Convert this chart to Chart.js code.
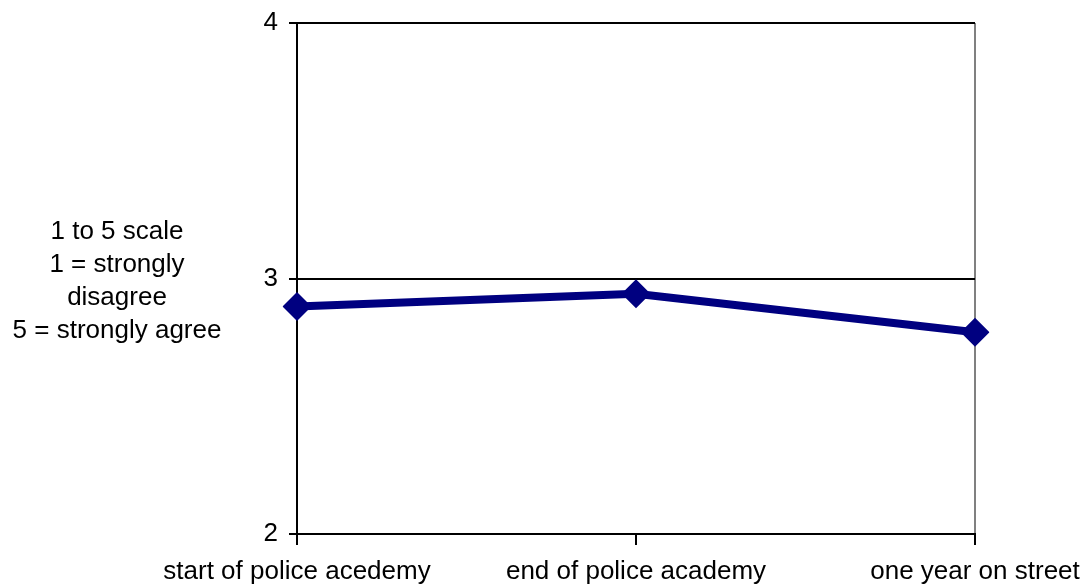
<!DOCTYPE html>
<html>
<head>
<meta charset="utf-8">
<script src="https://cdn.jsdelivr.net/npm/chart.js@4/dist/chart.umd.min.js"></script>
<style>
  html, body { margin: 0; padding: 0; background: #ffffff; }
  #wrap { width: 1086px; height: 588px; position: relative; }
</style>
</head>
<body>
<div id="wrap"><canvas id="chart" width="1086" height="588"></canvas></div>
<script>
// Survey waves and mean agreement scores
const categories = ['start of police acedemy', 'end of police academy', 'one year on street'];
const meanScores = [2.89, 2.94, 2.79];
const yTicks = [2, 3, 4];
const axisNote = ['1 to 5 scale', '1 = strongly', 'disagree', '5 = strongly agree'];

const FONT = '"Liberation Sans", Arial, sans-serif';
const FONT_SIZE = 26;

// Draws the multi-line scale description to the left of the value axis
const sideNote = {
  id: 'sideNote',
  afterDraw(chart) {
    const ctx = chart.ctx;
    ctx.save();
    ctx.fillStyle = '#000';
    ctx.font = FONT_SIZE + 'px ' + FONT;
    ctx.textAlign = 'center';
    ctx.textBaseline = 'middle';
    const cx = 117, startY = 232, step = 33;
    axisNote.forEach((line, i) => ctx.fillText(line, cx, startY + i * step));
    ctx.restore();
  }
};

new Chart(document.getElementById('chart'), {
  type: 'line',
  data: {
    labels: categories,
    datasets: [{
      data: meanScores,
      borderColor: '#000080',
      backgroundColor: '#000080',
      borderWidth: 8,
      pointStyle: 'rectRot',
      pointRadius: 14.5,
      pointHoverRadius: 14.5,
      pointBorderWidth: 0,
      tension: 0,
      fill: false
    }]
  },
  options: {
    responsive: false,
    animation: false,
    events: [],
    layout: { padding: { top: 23, right: 111, bottom: 0, left: 0 } },
    plugins: { legend: { display: false }, tooltip: { enabled: false } },
    scales: {
      x: {
        offset: false,
        border: { display: true, color: '#000', width: 2 },
        grid: {
          drawOnChartArea: true,
          color: c => c.index === categories.length - 1 ? '#808080' : 'rgba(0,0,0,0)',
          lineWidth: 2,
          tickColor: '#000',
          tickLength: 11,
          tickWidth: 2
        },
        ticks: { color: '#000', font: { family: FONT, size: FONT_SIZE }, padding: 11, maxRotation: 0, autoSkip: false },
        afterFit(scale) { scale.paddingLeft = 0; scale.paddingRight = 0; scale.height = 54; }
      },
      y: {
        min: yTicks[0],
        max: yTicks[yTicks.length - 1],
        afterBuildTicks(scale) { scale.ticks = yTicks.map(v => ({ value: v })); },
        border: { display: true, color: '#000', width: 2 },
        grid: { color: '#000', lineWidth: 2, tickLength: 8, tickColor: '#000' },
        ticks: { color: '#000', font: { family: FONT, size: FONT_SIZE }, padding: 11 },
        afterFit(scale) { scale.width = 297; scale.paddingTop = 0; scale.paddingBottom = 0; }
      }
    }
  },
  plugins: [sideNote]
});
</script>
</body>
</html>
